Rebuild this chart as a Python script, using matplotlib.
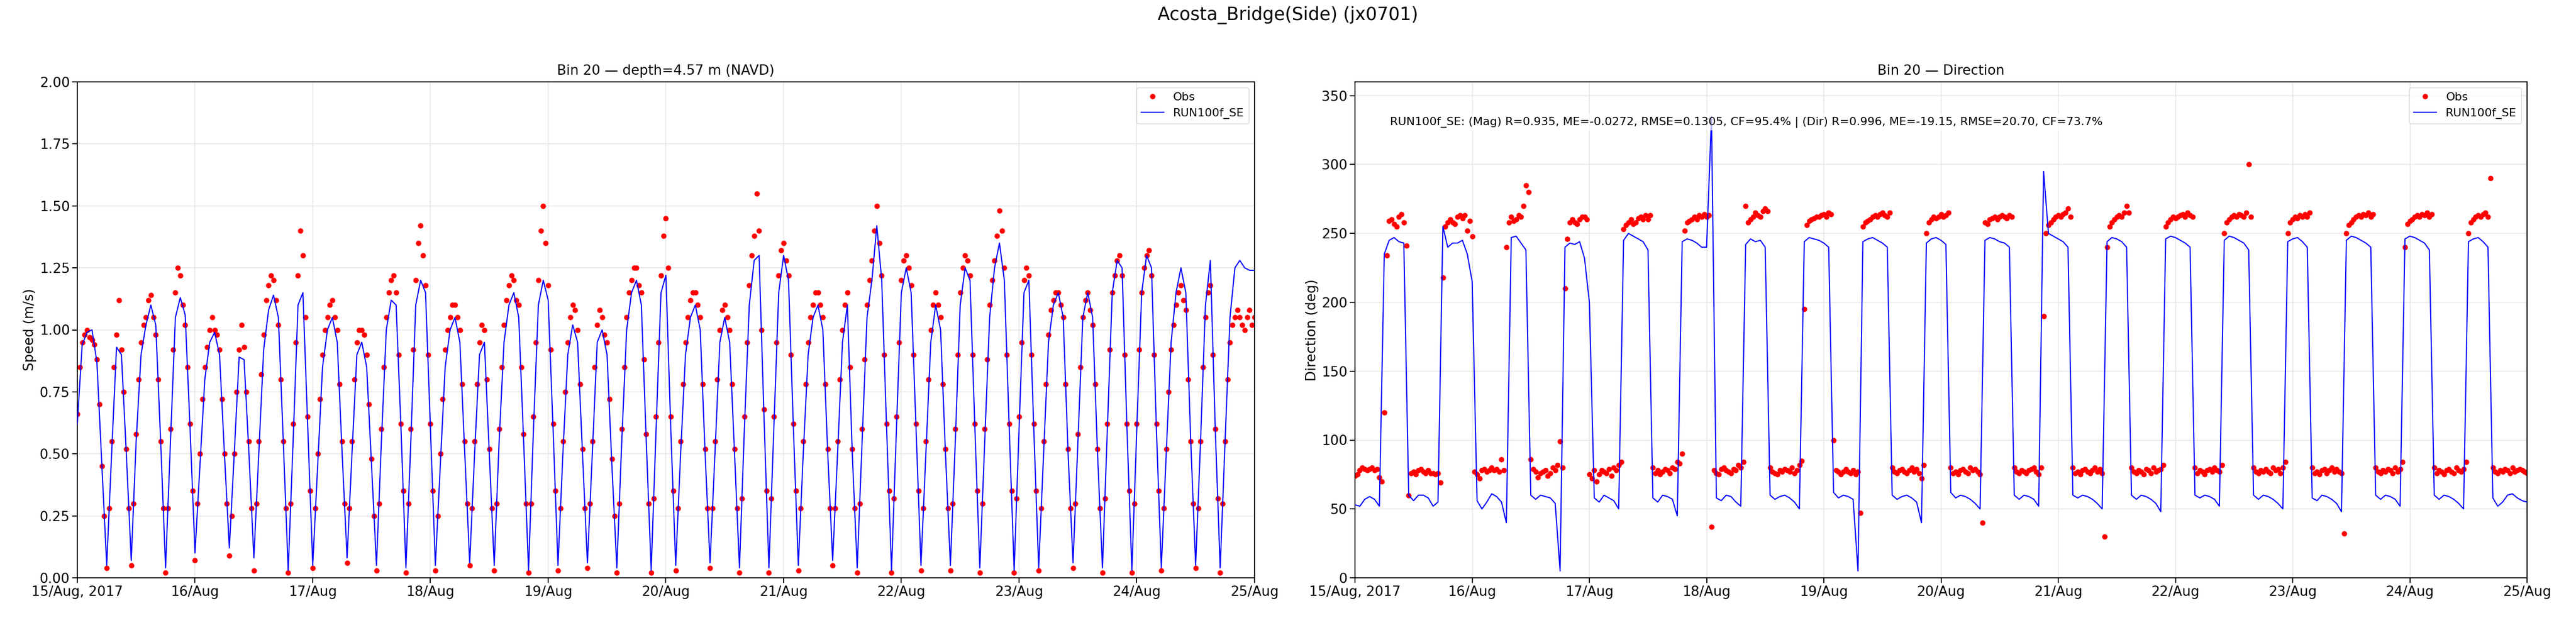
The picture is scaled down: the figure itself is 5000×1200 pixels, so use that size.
import datetime as dt
import numpy as np
import matplotlib
matplotlib.use("Agg")
import matplotlib.pyplot as plt
import matplotlib.dates as mdates

start = dt.datetime(2017, 8, 15)

# model (hourly)
spd_mod = [0.62, 0.94, 0.99, 1.0, 0.87, 0.46, 0.05, 0.5, 0.93, 0.9, 0.5, 0.07, 0.55, 0.9, 1.02, 1.1, 1.02, 0.55, 0.04,
           0.55, 1.05, 1.13, 1.06, 0.6, 0.1, 0.45, 0.8, 0.95, 0.99, 0.9, 0.5, 0.12, 0.5, 0.89, 0.88, 0.5, 0.08,
           0.5, 0.92, 1.08, 1.14, 1.05, 0.55, 0.03, 0.55, 1.1, 1.15, 0.6, 0.05, 0.45, 0.85, 1.0, 1.05, 0.95, 0.5, 0.08,
           0.5, 0.9, 0.95, 0.85, 0.45, 0.05, 0.55, 1.0, 1.12, 1.1, 0.6, 0.04, 0.55, 1.1, 1.2, 1.15, 0.6, 0.05,
           0.45, 0.85, 1.0, 1.05, 0.95, 0.5, 0.06, 0.5, 0.9, 0.95, 0.5, 0.05, 0.55, 0.95, 1.1, 1.15, 1.05, 0.55, 0.03,
           0.6, 1.1, 1.2, 1.12, 0.6, 0.05, 0.5, 0.9, 1.02, 0.95, 0.5, 0.06, 0.5, 0.95, 1.0, 0.9, 0.45, 0.04,
           0.55, 1.0, 1.15, 1.2, 1.1, 0.55, 0.03, 0.6, 1.15, 1.22, 0.6, 0.05, 0.5, 0.9, 1.05, 1.1, 1.0, 0.5, 0.06,
           0.5, 0.95, 1.05, 0.95, 0.5, 0.04, 0.6, 1.1, 1.28, 1.3, 0.65, 0.04, 0.6, 1.15, 1.3, 1.2, 0.6, 0.05,
           0.5, 0.9, 1.05, 1.1, 1.0, 0.5, 0.07, 0.5, 0.95, 1.1, 0.5, 0.04, 0.55, 1.05, 1.2, 1.42, 1.2, 0.6, 0.03,
           0.6, 1.15, 1.25, 1.15, 0.6, 0.05, 0.5, 0.95, 1.1, 1.0, 0.5, 0.05, 0.55, 1.1, 1.25, 1.2, 0.6, 0.04,
           0.55, 1.05, 1.25, 1.35, 1.2, 0.6, 0.03, 0.6, 1.15, 1.2, 0.6, 0.04, 0.5, 0.95, 1.1, 1.15, 1.05, 0.5, 0.06,
           0.55, 1.05, 1.15, 1.05, 0.5, 0.04, 0.6, 1.15, 1.28, 1.25, 0.6, 0.03, 0.6, 1.15, 1.3, 1.25, 0.6, 0.04,
           0.5, 0.95, 1.15, 1.25, 1.15, 0.55, 0.05, 0.55, 1.1, 1.28, 0.6, 0.04, 0.55, 1.05, 1.25, 1.28, 1.25, 1.24, 1.24]

dir_mod = [53, 52, 57, 59, 57, 52, 235, 245, 247, 244, 243, 60, 56, 60, 60, 58, 52, 55,
           255, 240, 243, 243, 245, 235, 215, 56, 50, 55, 61, 59, 55, 40, 247, 248, 243, 238,
           60, 57, 60, 59, 58, 54, 5, 240, 243, 242, 244, 232, 200, 58, 55, 60, 58, 56, 50,
           245, 250, 248, 246, 244, 238, 58, 55, 60, 59, 57, 45, 244, 246, 245, 243, 240, 240,
           335, 58, 56, 60, 59, 55, 52, 242, 246, 244, 245, 240, 60, 57, 59, 60, 58, 55, 50,
           244, 247, 246, 245, 243, 240, 62, 58, 60, 59, 57, 5, 244, 246, 247, 245, 243, 240,
           60, 57, 59, 60, 58, 55, 40, 243, 246, 247, 245, 242, 62, 58, 60, 59, 57, 54, 50,
           245, 247, 246, 244, 243, 240, 60, 57, 60, 59, 57, 52, 295, 250, 248, 246, 244, 240,
           60, 58, 60, 59, 57, 54, 50, 244, 247, 246, 244, 240, 60, 57, 60, 59, 57, 54, 48,
           246, 248, 247, 245, 243, 240, 60, 58, 60, 59, 57, 52, 245, 248, 247, 245, 243, 238,
           60, 57, 60, 59, 57, 54, 50, 244, 246, 247, 244, 240, 58, 56, 60, 59, 57, 54, 48,
           245, 248, 247, 245, 243, 240, 60, 57, 60, 59, 57, 52, 246, 248, 247, 245, 243, 238,
           60, 57, 60, 59, 57, 54, 50, 244, 246, 247, 244, 240, 58, 52, 55, 60, 61, 58, 56, 55]

# observations (every 30 min)
spd_obs = [.66, .85, .95, .98, 1.0, .97, .96, .94, .88, .70, .45, .25, .04, .28, .55, .85, .98, 1.12, .92, .75,
           .52, .28, .05, .30, .58, .80, .95, 1.02, 1.05, 1.12, 1.14, 1.05, .98, .80, .55, .28, .02, .28, .60, .92,
           1.15, 1.25, 1.22, 1.10, 1.02, .85, .62, .35, .07, .30, .50, .72, .85, .93, 1.0, 1.05, 1.0, .98, .92, .72,
           .50, .30, .09, .25, .50, .75, .92, 1.02, .93, .75, .55, .28, .03, .30, .55, .82, .98, 1.12, 1.18, 1.22,
           1.20, 1.12, 1.02, .80, .55, .28, .02, .30, .62, .95, 1.22, 1.40, 1.30, 1.05, .65, .35, .04, .28, .50, .72,
           .90, 1.0, 1.05, 1.10, 1.12, 1.05, 1.0, .78, .55, .30, .06, .28, .55, .80, .95, 1.0, 1.0, .98, .90, .70,
           .48, .25, .03, .30, .60, .85, 1.05, 1.15, 1.20, 1.22, 1.15, .90, .62, .35, .02, .30, .60, .92, 1.20, 1.35,
           1.42, 1.30, 1.18, .90, .62, .35, .03, .25, .50, .72, .92, 1.0, 1.05, 1.10, 1.10, 1.05, 1.0, .78, .55, .30,
           .05, .28, .55, .78, .95, 1.02, 1.0, .80, .52, .28, .03, .30, .60, .85, 1.02, 1.12, 1.18, 1.22, 1.20, 1.12,
           1.10, .85, .58, .30, .02, .30, .65, .95, 1.20, 1.40, 1.50, 1.35, 1.18, .92, .62, .35, .03, .28, .55, .75,
           .95, 1.05, 1.10, 1.08, 1.0, .78, .52, .28, .04, .30, .55, .85, 1.02, 1.08, 1.05, .98, .95, .72, .48, .25,
           .02, .30, .60, .85, 1.05, 1.15, 1.20, 1.25, 1.25, 1.18, 1.15, .88, .58, .30, .02, .32, .65, .95, 1.22, 1.38,
           1.45, 1.25, .65, .35, .03, .28, .55, .78, .95, 1.05, 1.12, 1.15, 1.15, 1.10, 1.05, .78, .52, .28, .04, .28,
           .55, .80, 1.0, 1.08, 1.10, 1.05, 1.0, .78, .52, .28, .02, .32, .65, .95, 1.18, 1.30, 1.38, 1.55, 1.40, 1.0,
           .68, .35, .02, .32, .65, .95, 1.22, 1.32, 1.35, 1.28, 1.22, .90, .62, .35, .03, .28, .55, .78, .95, 1.05,
           1.10, 1.15, 1.15, 1.10, 1.05, .78, .52, .28, .05, .28, .55, .80, 1.0, 1.10, 1.15, .85, .52, .28, .02, .30,
           .60, .88, 1.10, 1.20, 1.28, 1.40, 1.50, 1.35, 1.22, .90, .62, .35, .02, .32, .65, .95, 1.20, 1.28, 1.30, 1.25,
           1.18, .90, .62, .35, .03, .28, .55, .80, 1.0, 1.10, 1.15, 1.10, 1.05, .78, .52, .28, .03, .30, .60, .90,
           1.15, 1.25, 1.30, 1.28, 1.22, .90, .62, .35, .02, .30, .60, .88, 1.10, 1.20, 1.28, 1.38, 1.48, 1.40, 1.25, .90,
           .62, .35, .02, .32, .65, .95, 1.20, 1.25, 1.22, .90, .62, .35, .03, .28, .55, .78, .98, 1.08, 1.12, 1.15,
           1.15, 1.10, 1.05, .78, .52, .28, .04, .30, .58, .85, 1.05, 1.12, 1.15, 1.08, 1.02, .78, .52, .28, .02, .32,
           .62, .92, 1.15, 1.22, 1.28, 1.30, 1.22, .90, .62, .35, .02, .30, .62, .92, 1.15, 1.25, 1.30, 1.32, 1.22, .90,
           .62, .35, .03, .28, .52, .75, .92, 1.02, 1.10, 1.15, 1.18, 1.12, 1.08, .80, .55, .30, .04, .28, .55, .85,
           1.05, 1.15, 1.18, .90, .60, .32, .02, .30, .55, .80, .95, 1.02, 1.05, 1.08, 1.05, 1.02, 1.0, 1.05, 1.08, 1.02,
           1.05]

dir_obs = [74, 75, 78, 80, 79, 78, 79, 80, 78, 79, 73, 70,
           120, 234, 259, 260, 257, 255, 262, 264, 258, 241,
           60, 76, 77, 75, 78, 79, 77, 76, 78, 76, 76, 75, 76, 69,
           218, 255, 258, 260, 258, 257, 262, 263, 261, 263, 252, 259,
           248, 77, 75, 72, 78, 79, 77, 78, 80, 78, 79, 77, 86, 78,
           240, 258, 262, 259, 260, 263, 262, 270, 285, 280,
           86, 79, 77, 73, 76, 77, 78, 74, 76, 80, 78, 82, 99, 80,
           210, 246, 258, 260, 258, 257, 260, 262, 262, 260,
           75, 72, 78, 70, 75, 78, 77, 76, 79, 74, 80, 78, 82, 84,
           253, 256, 258, 260, 257, 258, 261, 262, 260, 263, 260, 263,
           80, 76, 78, 75, 77, 79, 78, 76, 80, 79, 84, 83,
           90, 252, 258, 259, 260, 262, 260, 263, 262, 264, 262, 263,
           37, 78, 76, 75, 79, 80, 78, 77, 76, 79, 78, 82, 80, 84,
           270, 258, 260, 262, 265, 263, 262, 266, 268, 266,
           80, 77, 76, 75, 78, 77, 79, 78, 77, 80, 76, 78, 82, 85,
           195, 256, 259, 260, 261, 262, 262, 263, 264, 262, 265, 264,
           100, 78, 77, 75, 77, 79, 77, 76, 78, 75, 77, 47,
           255, 258, 259, 260, 262, 263, 262, 264, 265, 263, 262, 265,
           80, 77, 76, 78, 79, 77, 76, 78, 80, 77, 79, 76, 72, 82,
           250, 258, 260, 262, 261, 262, 264, 262, 263, 265,
           80, 76, 77, 75, 78, 79, 77, 76, 80, 78, 79, 77, 75, 40,
           258, 257, 260, 261, 262, 260, 262, 263, 262, 261, 263, 262,
           80, 77, 76, 78, 77, 76, 78, 79, 80, 77, 75, 80,
           190, 250, 256, 258, 260, 262, 263, 262, 264, 265, 268, 262,
           80, 76, 77, 75, 78, 79, 77, 76, 78, 80, 77, 79, 76, 30,
           240, 255, 258, 260, 262, 263, 262, 265, 270, 265,
           80, 77, 76, 78, 77, 75, 79, 78, 76, 80, 77, 78, 79, 82,
           255, 258, 260, 262, 261, 262, 263, 264, 262, 265, 263, 262,
           80, 76, 78, 77, 75, 78, 79, 77, 80, 78, 77, 82,
           250, 258, 260, 262, 263, 262, 264, 263, 262, 265, 300, 262,
           80, 77, 76, 78, 77, 79, 77, 76, 80, 78, 79, 76, 80, 84,
           250, 258, 260, 262, 261, 263, 262, 264, 262, 265,
           80, 76, 77, 75, 78, 79, 76, 78, 80, 77, 79, 77, 76, 32,
           250, 256, 258, 260, 262, 263, 262, 264, 263, 265, 262, 264,
           80, 77, 76, 78, 77, 79, 78, 76, 80, 77, 79, 84,
           240, 257, 259, 260, 262, 263, 262, 264, 263, 265, 262, 264,
           80, 76, 78, 77, 75, 78, 79, 77, 76, 80, 78, 77, 79, 84,
           250, 258, 260, 262, 263, 262, 264, 265, 262, 290,
           80, 77, 76, 78, 77, 79, 78, 76, 80, 77, 78, 79, 78, 77, 76]

stats_text = ("RUN100f_SE: (Mag) R=0.935, ME=-0.0272, RMSE=0.1305, CF=95.4% | "
              "(Dir) R=0.996, ME=-19.15, RMSE=20.70, CF=73.7%")
day_labels = ["15/Aug, 2017", "16/Aug", "17/Aug", "18/Aug", "19/Aug", "20/Aug",
              "21/Aug", "22/Aug", "23/Aug", "24/Aug", "25/Aug"]


def times(n, step_h):
    return [start + dt.timedelta(hours=i * step_h) for i in range(n)]


fig = plt.figure(figsize=(50, 12), dpi=100)
ax1 = fig.add_axes([0.030, 0.065, 0.457, 0.8025])
ax2 = fig.add_axes([0.526, 0.065, 0.455, 0.8025])
fig.suptitle("Acosta_Bridge(Side) (jx0701)", fontsize=25, y=0.99)

ax1.plot(times(len(spd_obs), 0.5), spd_obs, "o", color="red", ms=6.5, label="Obs", zorder=2)
ax1.plot(times(len(spd_mod), 1), spd_mod, color="blue", lw=1.6, label="RUN100f_SE", zorder=3)
ax1.set_ylim(0, 2.0)
ax1.set_ylabel("Speed (m/s)", fontsize=19)
ax1.set_title("Bin 20 — depth=4.57 m (NAVD)", fontsize=19, pad=10)

ax2.plot(times(len(dir_obs), 0.5), dir_obs, "o", color="red", ms=6.5, label="Obs", zorder=2)
ax2.plot(times(len(dir_mod), 1), dir_mod, color="blue", lw=1.6, label="RUN100f_SE", zorder=3)
ax2.set_ylim(0, 360)
ax2.set_ylabel("Direction (deg)", fontsize=19)
ax2.set_title("Bin 20 — Direction", fontsize=19, pad=10)
ax2.text(0.03, 0.93, stats_text, transform=ax2.transAxes, fontsize=16, va="top",
         bbox=dict(facecolor="white", edgecolor="none", alpha=0.7))

ticks = [start + dt.timedelta(days=d) for d in range(len(day_labels))]
for ax in (ax1, ax2):
    ax.set_xlim(ticks[0], ticks[-1])
    ax.set_xticks(ticks)
    ax.set_xticklabels(day_labels)
    ax.tick_params(labelsize=19, width=1.5, length=7)
    ax.grid(True, color="#e6e6e6", lw=1.2)
    ax.set_axisbelow(True)
    ax.legend(loc="upper right", fontsize=16)
    for s in ax.spines.values():
        s.set_linewidth(1.5)

fig.savefig("out.png")
